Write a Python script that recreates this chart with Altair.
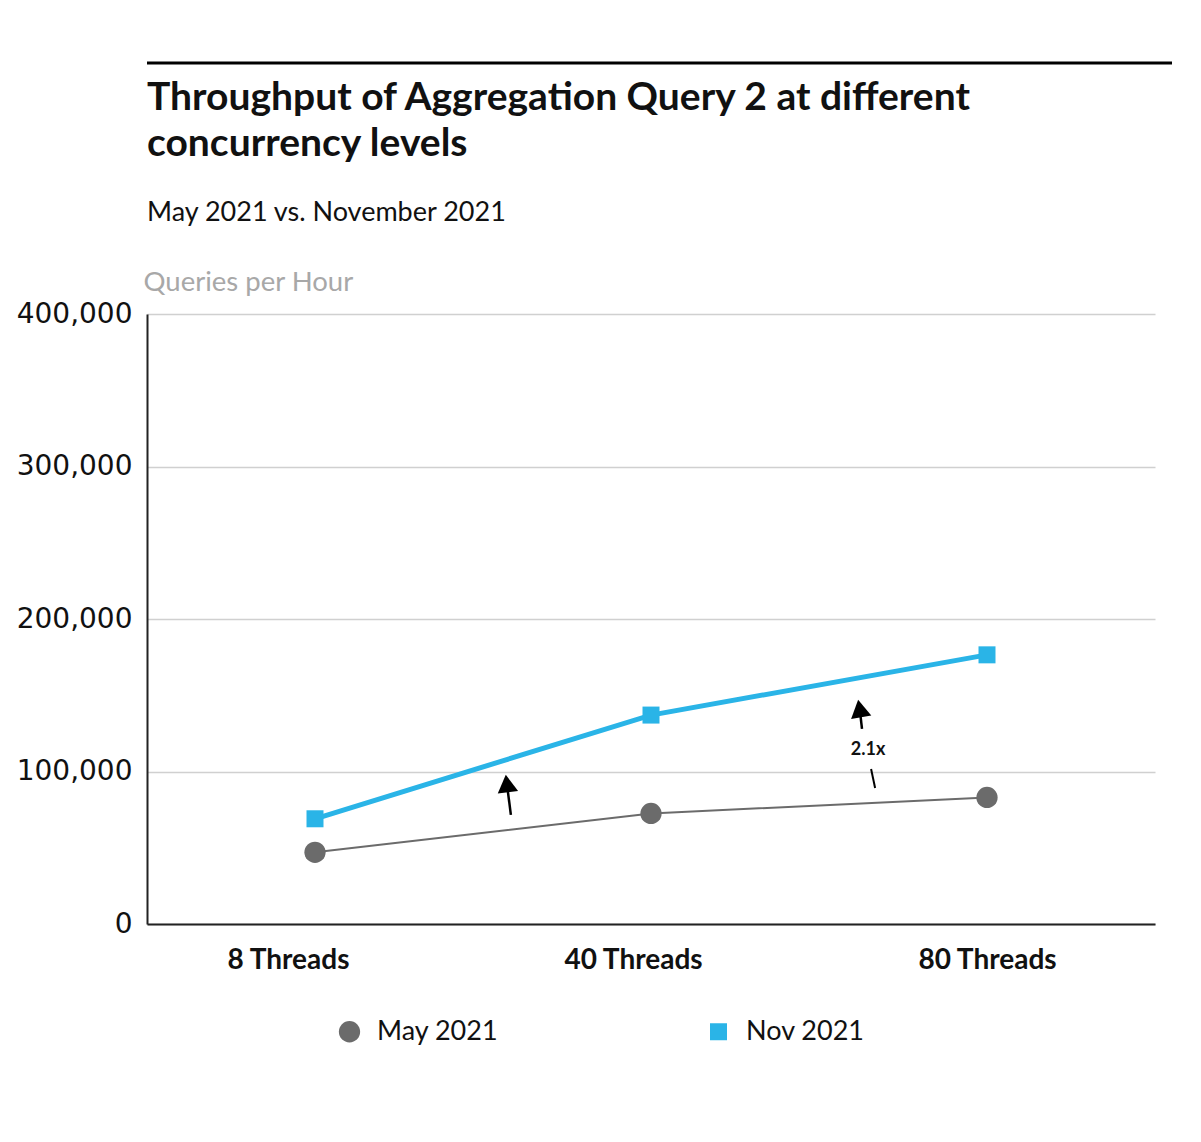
import altair as alt
import pandas as pd

# ---- data ----
categories = ["8 Threads", "40 Threads", "80 Threads"]
cat_index = [0, 1, 2]
may_2021 = [47000, 72500, 83000]
nov_2021 = [69000, 137000, 176500]
series_names = ["May 2021", "Nov 2021"]

# annotation arrows (data units: x index, y queries per hour)
arrow_x = [0.583, 1.628]
arrow_y = [71500, 127900]
arrow_head_x = [0.571, 1.621]
arrow_head_y = [92100, 141300]
arrow_angle = [353, 350]
stub_x = [1.655]
stub_y = [101600]
stub_x2 = [1.667]
stub_y2 = [89200]
label_x = [1.646]
label_y = [114100]
label_text = ["2.1x"]

y_ticks = [0, 100000, 200000, 300000, 400000]

rows = []
for i, c in enumerate(categories):
    rows.append({"idx": cat_index[i], "cat": c, "series": series_names[0], "value": may_2021[i]})
    rows.append({"idx": cat_index[i], "cat": c, "series": series_names[1], "value": nov_2021[i]})
df = pd.DataFrame(rows)

arrows = pd.DataFrame({"idx": arrow_x, "value": arrow_y, "x2": arrow_head_x, "y2": arrow_head_y, "angle": arrow_angle})
heads = pd.DataFrame({"idx": arrow_head_x, "value": arrow_head_y, "angle": arrow_angle})
stubs = pd.DataFrame({"idx": stub_x, "value": stub_y, "x2": stub_x2, "y2": stub_y2})
labels = pd.DataFrame({"idx": label_x, "value": label_y, "t": label_text})

GRAY = "#6b6b6b"
BLUE = "#2ab4e7"
FONT = "Lato"

label_expr = "datum.value == 0 ? '8 Threads' : datum.value == 1 ? '40 Threads' : '80 Threads'"

x_scale = alt.Scale(domain=[-0.5, 2.5], nice=False, zero=False)
y_scale = alt.Scale(domain=[0, 400000], nice=False)

x_axis = alt.Axis(
    values=cat_index,
    labelExpr=label_expr,
    title=None,
    grid=False,
    ticks=False,
    domainColor="#222222",
    domainWidth=2,
    labelFont=FONT,
    labelFontSize=28,
    labelFontWeight="bold",
    labelColor="#111111",
    labelPadding=22,
    labelOffset={"condition": [{"test": "datum.value == 0", "value": -27},
                               {"test": "datum.value == 1", "value": -18}],
                 "value": 0},
)
y_axis = alt.Axis(
    values=y_ticks,
    format=",.0f",
    title="Queries per Hour",
    titleAngle=0,
    titleAlign="left",
    titleBaseline="alphabetic",
    titleX=-4,
    titleY=-24,
    titleColor="#a8a8a8",
    titleFont=FONT,
    titleFontSize=27.5,
    titleFontWeight="normal",
    ticks=False,
    domainColor="#222222",
    domainWidth=2,
    gridColor="#d0d0d0",
    gridWidth=1.5,
    labelFont="DejaVu Sans",
    labelFontSize=28,
    labelColor="#111111",
    labelPadding=15,
)

x_enc = alt.X("idx:Q", scale=x_scale, axis=x_axis)
y_enc = alt.Y("value:Q", scale=y_scale, axis=y_axis)

base = alt.Chart(df)

line_may = base.transform_filter(alt.datum.series == series_names[0]).mark_line(
    color=GRAY, strokeWidth=2).encode(x=x_enc, y=y_enc)
line_nov = base.transform_filter(alt.datum.series == series_names[1]).mark_line(
    color=BLUE, strokeWidth=5).encode(x=x_enc, y=y_enc)

points = base.mark_point(filled=True, opacity=1).encode(
    x=x_enc,
    y=y_enc,
    color=alt.Color("series:N", scale=alt.Scale(domain=series_names, range=[GRAY, BLUE]),
                    legend=alt.Legend(title=None, orient="none", direction="horizontal",
                                      legendX=189, legendY=704,
                                      labelFont=FONT, labelFontSize=27, labelColor="#111111",
                                      labelOffset=14, columnPadding=206, labelLimit=300)),
    shape=alt.Shape("series:N", scale=alt.Scale(domain=series_names, range=["circle", "square"])),
    size=alt.Size("series:N", scale=alt.Scale(domain=series_names, range=[452, 289])),
)

arrow_lines = alt.Chart(arrows).mark_rule(color="#000000", strokeWidth=2.5).encode(
    x=x_enc, y=y_enc, x2="x2:Q", y2="y2:Q")
arrow_heads = alt.Chart(heads).mark_point(shape="triangle-up", filled=True, color="#000000",
                                           opacity=1, size=420).encode(
    x=x_enc, y=y_enc, angle=alt.Angle("angle:Q", scale=None))
stub_lines = alt.Chart(stubs).mark_rule(color="#000000", strokeWidth=2).encode(
    x=x_enc, y=y_enc, x2="x2:Q", y2="y2:Q")
ann_text = alt.Chart(labels).mark_text(font=FONT, fontSize=18, fontWeight="bold", color="#111111").encode(
    x=x_enc, y=y_enc, text="t:N")

top_rule = alt.Chart(pd.DataFrame({"a": [0]})).mark_rule(color="#000000", strokeWidth=3).encode(
    x=alt.value(0), x2=alt.value(1025), y=alt.value(-251))

chart = alt.layer(
    line_may, line_nov, points, arrow_lines, arrow_heads, stub_lines, ann_text, top_rule
).properties(
    width=1008,
    height=610,
    autosize=alt.AutoSizeParams(type="none"),
    padding={"left": 139, "top": 306, "right": 38, "bottom": 210},
    title=alt.TitleParams(
        text=["Throughput of Aggregation Query 2 at different", "concurrency levels"],
        subtitle="May 2021 vs. November 2021",
        anchor="start",
        frame="group",
        font=FONT,
        fontSize=39,
        fontWeight="bold",
        lineHeight=46,
        color="#111111",
        subtitleFont=FONT,
        subtitleFontSize=27,
        subtitleColor="#111111",
        subtitlePadding=36,
        offset=-164,
    ),
).configure_view(stroke=None)

chart.save("out.html", embed_options={"renderer": "svg", "actions": False})
